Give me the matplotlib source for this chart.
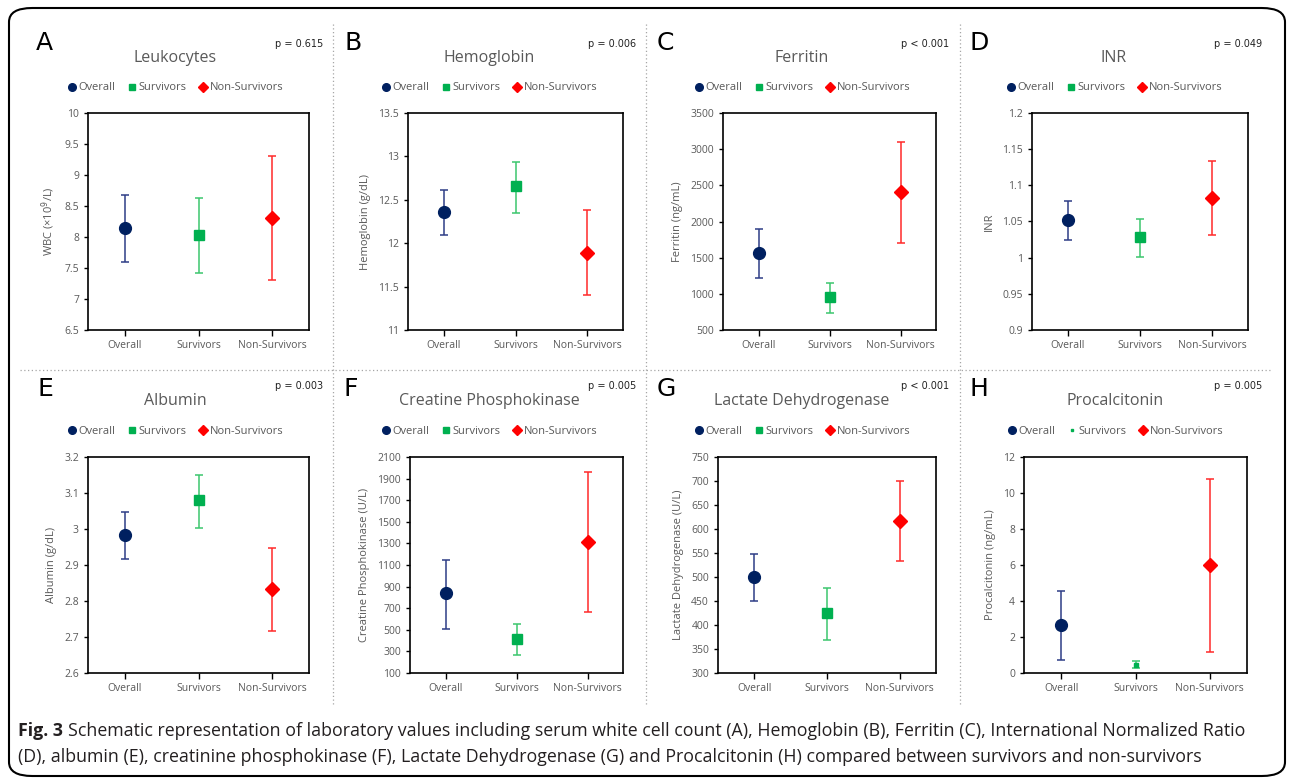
import numpy as np
import matplotlib
matplotlib.use("Agg")
import matplotlib.pyplot as plt
from matplotlib.lines import Line2D
from matplotlib.patches import FancyBboxPatch

groups = ["Overall", "Survivors", "Non-Survivors"]

# mean, lower, upper for each panel (Overall, Survivors, Non-Survivors)
wbc_mean = [8.15, 8.04, 8.31]
wbc_low = [7.59, 7.42, 7.31]
wbc_high = [8.68, 8.63, 9.31]

hb_mean = [12.36, 12.66, 11.89]
hb_low = [12.09, 12.35, 11.40]
hb_high = [12.61, 12.94, 12.38]

fer_mean = [1560, 960, 2410]
fer_low = [1220, 730, 1700]
fer_high = [1890, 1150, 3100]

inr_mean = [1.052, 1.028, 1.082]
inr_low = [1.025, 1.001, 1.031]
inr_high = [1.078, 1.054, 1.133]

alb_mean = [2.982, 3.080, 2.832]
alb_low = [2.916, 3.003, 2.717]
alb_high = [3.047, 3.150, 2.946]

cpk_mean = [840, 415, 1315]
cpk_low = [510, 265, 665]
cpk_high = [1150, 550, 1960]

ldh_mean = [500, 425, 617]
ldh_low = [451, 369, 533]
ldh_high = [547, 478, 700]

pct_mean = [2.64, 0.45, 6.01]
pct_low = [0.70, 0.28, 1.14]
pct_high = [4.56, 0.65, 10.80]

letters = ["A", "B", "C", "D", "E", "F", "G", "H"]
titles = ["Leukocytes", "Hemoglobin", "Ferritin", "INR",
          "Albumin", "Creatine Phosphokinase", "Lactate Dehydrogenase", "Procalcitonin"]
ylabels = ["WBC (\u00d710$^9$/L)", "Hemoglobin (g/dL)", "Ferritin (ng/mL)", "INR",
           "Albumin (g/dL)", "Creatine Phosphokinase (U/L)", "Lactate Dehydrogenase (U/L)",
           "Procalcitonin (ng/mL)"]
pvalues = ["p = 0.615", "p = 0.006", "p < 0.001", "p = 0.049",
           "p = 0.003", "p = 0.005", "p < 0.001", "p = 0.005"]
yticks = [np.arange(6.5, 10.01, 0.5), np.arange(11, 13.51, 0.5), np.arange(500, 3501, 500),
          np.arange(0.9, 1.201, 0.05), np.arange(2.6, 3.201, 0.1), np.arange(100, 2101, 200),
          np.arange(300, 751, 50), np.arange(0, 12.1, 2)]

means = [wbc_mean, hb_mean, fer_mean, inr_mean, alb_mean, cpk_mean, ldh_mean, pct_mean]
lows = [wbc_low, hb_low, fer_low, inr_low, alb_low, cpk_low, ldh_low, pct_low]
highs = [wbc_high, hb_high, fer_high, inr_high, alb_high, cpk_high, ldh_high, pct_high]

caption_bold = "Fig. 3"
caption_1 = ("Schematic representation of laboratory values including serum white cell count (A), "
             "Hemoglobin (B), Ferritin (C), International Normalized Ratio")
caption_2 = ("(D), albumin (E), creatinine phosphokinase (F), Lactate Dehydrogenase (G) and "
             "Procalcitonin (H) compared between survivors and non-survivors")

W, H = 1292, 778
GRAY = "#595959"
mk_color = ["#002060", "#00B050", "#FF0000"]
bar_color = ["#2E3D86", "#3CC66E", "#FF2A2A"]
markers = ["o", "s", "D"]
msizes = [8.5, 7.5, 7.5]

# axes boxes in pixels: left, right, top, bottom
boxes = [(88, 309, 113, 330), (408, 623, 113, 330), (723, 936, 113, 330), (1032, 1248, 113, 330),
         (88, 309, 457, 673), (410, 623, 457, 673), (718, 936, 457, 673), (1024, 1247, 457, 673)]
title_x = [175, 489, 802, 1114, 175, 489, 802, 1115]
letter_x = [36, 345, 657, 970, 38, 343, 657, 970]
p_x = [323, 636, 949, 1262, 323, 636, 949, 1262]

fig = plt.figure(figsize=(W / 100, H / 100), dpi=100)
plt.rcParams['font.family'] = ['Open Sans', 'DejaVu Sans']


def fx(x):
    return x / W


def fy(y):
    return 1 - y / H


# outer rounded frame
frame = FancyBboxPatch((fx(9), fy(776)), fx(1276), (768) / H,
                       boxstyle="round,pad=0,rounding_size=0.018",
                       transform=fig.transFigure, fill=False, ec="black", lw=1.5)
fig.patches.append(frame)

# dotted dividers
for x in [333, 646, 960]:
    fig.add_artist(Line2D([fx(x), fx(x)], [fy(24), fy(706)], transform=fig.transFigure,
                          color="#A6A6A6", lw=0.9, ls=(0, (1, 2))))
fig.add_artist(Line2D([fx(20), fx(1270)], [fy(370), fy(370)], transform=fig.transFigure,
                      color="#A6A6A6", lw=0.9, ls=(0, (1, 2))))

for i in range(8):
    l, r, t, b = boxes[i]
    ax = fig.add_axes([fx(l), fy(b), (r - l) / W, (b - t) / H])
    m = np.array(means[i])
    lo = np.array(lows[i])
    hi = np.array(highs[i])
    for j in range(3):
        ms = msizes[j]
        if i == 7 and j == 1:
            ms = 3
        ax.errorbar([j], [m[j]], yerr=[[m[j] - lo[j]], [hi[j] - m[j]]], fmt="none",
                    ecolor=bar_color[j], elinewidth=1.1, capsize=3, capthick=1.1, zorder=2)
        ax.plot([j], [m[j]], marker=markers[j], color=mk_color[j], ms=ms, ls="none", zorder=3)
    ax.set_xlim(-0.5, 2.5)
    ax.set_ylim(yticks[i][0], yticks[i][-1])
    ax.set_yticks(yticks[i])
    ax.set_yticklabels(["{:g}".format(round(v, 2)) for v in yticks[i]])
    ax.set_xticks([0, 1, 2])
    ax.set_xticklabels(groups)
    ax.tick_params(axis="both", colors="black", labelcolor=GRAY, labelsize=7.5, length=4, width=1)
    ax.tick_params(axis="y", length=3)
    for s in ax.spines.values():
        s.set_linewidth(1.2)
    ax.set_ylabel(ylabels[i], color=GRAY, fontsize=8, labelpad=5)

    top_row = i < 4
    fig.text(fx(letter_x[i]), fy(50 if top_row else 396), letters[i], fontsize=18,
             ha="left", va="baseline", family=["DejaVu Sans"])
    fig.text(fx(p_x[i]), fy(47 if top_row else 389), pvalues[i], fontsize=7,
             ha="right", va="baseline", color="#222222", family=["DejaVu Sans"])
    fig.text(fx(title_x[i]), fy(58 if top_row else 401), titles[i], fontsize=11.5,
             ha="center", va="center", color=GRAY)

    handles = []
    for j in range(3):
        ms = 5.5 if j == 0 else 5
        if i == 7 and j == 1:
            ms = 2
        handles.append(Line2D([], [], marker=markers[j], color=mk_color[j], ls="none", ms=ms,
                              label=groups[j]))
    leg = fig.legend(handles=handles, loc="center", ncol=3, frameon=False,
                     bbox_to_anchor=(fx(title_x[i]), fy(88 if top_row else 431)),
                     fontsize=8, handletextpad=0.1, columnspacing=1.0, handlelength=1.0)
    for txt in leg.get_texts():
        txt.set_color(GRAY)

# caption, sized so the first line ends near the right of the frame
renderer = fig.canvas.get_renderer()
t_bold = fig.text(fx(18), fy(736), caption_bold, fontsize=13, fontweight="bold",
                  ha="left", va="baseline", color="#231F20")
t1 = fig.text(fx(70), fy(736), caption_1, fontsize=13, ha="left", va="baseline", color="#231F20")
w_bold = t_bold.get_window_extent(renderer).width
w1 = t1.get_window_extent(renderer).width
scale = (1238 - 18) / (w_bold + 6 + w1)
size = 13 * scale
t_bold.set_fontsize(size)
t1.set_fontsize(size)
w_bold = t_bold.get_window_extent(renderer).width
t1.set_x(fx(18 + w_bold + 5))
fig.text(fx(18), fy(762), caption_2, fontsize=size, ha="left", va="baseline", color="#231F20")

fig.savefig("out.png", dpi=100)
